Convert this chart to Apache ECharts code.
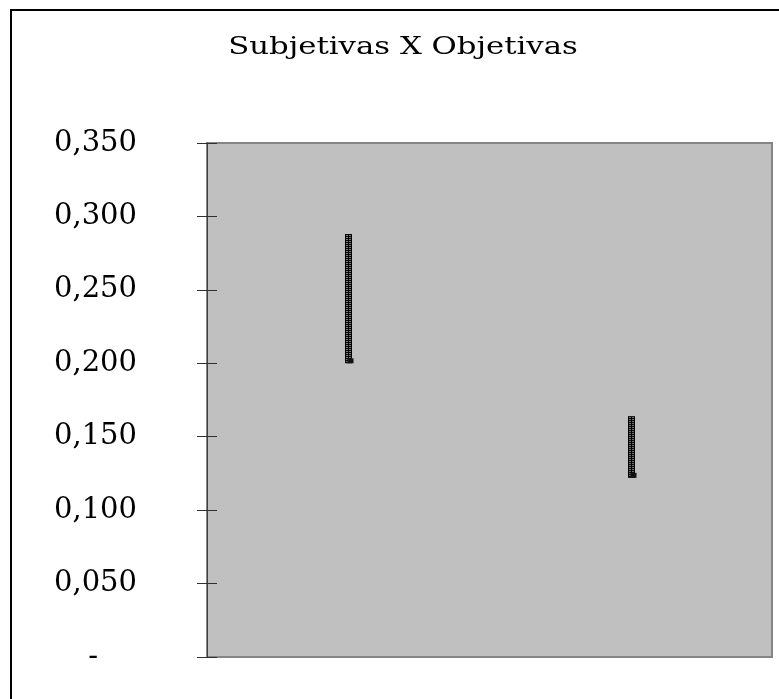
<!DOCTYPE html>
<html>
<head>
<meta charset="utf-8">
<script src="https://cdn.jsdelivr.net/npm/echarts@6/dist/echarts.min.js"></script>
<style>
  html, body { margin: 0; padding: 0; background: #ffffff; }
  #chart { width: 779px; height: 699px; }
</style>
</head>
<body>
<div id="chart"></div>
<script>
// Ranges per group (high / low) plotted as high-low bars
const categories = ['Subjetivas', 'Objetivas'];
const highValues = [0.288, 0.164];
const lowValues = [0.200, 0.122];

const yMin = 0;
const yMax = 0.35;
const yStep = 0.05;

const rangeData = categories.map((c, i) => [i, highValues[i], lowValues[i]]);

const chart = echarts.init(document.getElementById('chart'), null, { renderer: 'canvas' });

function fmt(v) {
  if (Math.abs(v) < 1e-9) return '{z|-}';
  return v.toFixed(3).replace('.', ',');
}

const serif = '"DejaVu Serif", "Liberation Serif", serif';

chart.setOption({
  backgroundColor: '#ffffff',
  animation: false,
  graphic: [{
    type: 'rect',
    shape: { x: 11, y: 10, width: 800, height: 720 },
    style: { fill: null, stroke: '#000000', lineWidth: 2 },
    silent: true
  }, {
    // chart title, widened to the wide book-style face
    type: 'text',
    x: 403,
    y: 35,
    scaleX: 1.23,
    style: {
      text: 'Subjetivas X Objetivas',
      font: 'normal 25px ' + serif,
      fill: '#000000',
      align: 'center',
      verticalAlign: 'top'
    },
    silent: true
  }],
  grid: {
    left: 207, top: 143, right: 7, bottom: 42,
    show: true,
    backgroundColor: '#c0c0c0',
    borderColor: '#858585',
    borderWidth: 2
  },
  xAxis: {
    type: 'category',
    data: categories,
    axisLine: { show: false },
    axisTick: { show: false },
    axisLabel: { show: false },
    splitLine: { show: false }
  },
  yAxis: [{
    type: 'value',
    min: yMin, max: yMax, interval: yStep,
    axisLine: { show: true, lineStyle: { color: '#404040', width: 1 } },
    axisTick: { show: true, length: 10, lineStyle: { color: '#303030', width: 1 } },
    splitLine: { show: false },
    axisLabel: {
      margin: 70,
      formatter: fmt,
      fontFamily: serif,
      fontSize: 29,
      color: '#000000',
      rich: { z: { fontFamily: serif, fontSize: 29, color: '#000000', padding: [0, 39, 0, 0] } }
    }
  }, {
    type: 'value',
    position: 'left',
    min: yMin, max: yMax, interval: yStep,
    axisLine: { show: false },
    axisTick: { show: true, inside: true, length: 10, lineStyle: { color: '#303030', width: 1 } },
    axisLabel: { show: false },
    splitLine: { show: false }
  }],
  series: [{
    type: 'custom',
    data: rangeData,
    encode: { x: 0, y: [1, 2] },
    renderItem: function (params, api) {
      const i = api.value(0);
      const top = api.coord([i, api.value(1)]);
      const bot = api.coord([i, api.value(2)]);
      const x = Math.round(top[0]) + 0.5;
      const w = 7;
      return {
        type: 'group',
        children: [
          { type: 'rect', shape: { x: x - w / 2, y: top[1], width: w, height: bot[1] - top[1] },
            style: { fill: '#000000' } },
          { type: 'line', shape: { x1: x - 1.5, y1: top[1] + 1, x2: x - 1.5, y2: bot[1] - 1 },
            style: { stroke: '#ffffff', lineWidth: 1, lineDash: [1, 1] } },
          { type: 'line', shape: { x1: x + 1.5, y1: top[1] + 1, x2: x + 1.5, y2: bot[1] - 1 },
            style: { stroke: '#ffffff', lineWidth: 1, lineDash: [1, 1] } },
          { type: 'rect', shape: { x: x - 1, y: bot[1] - 5, width: 6, height: 5 },
            style: { fill: '#111111' } }
        ]
      };
    }
  }]
});
</script>
</body>
</html>
